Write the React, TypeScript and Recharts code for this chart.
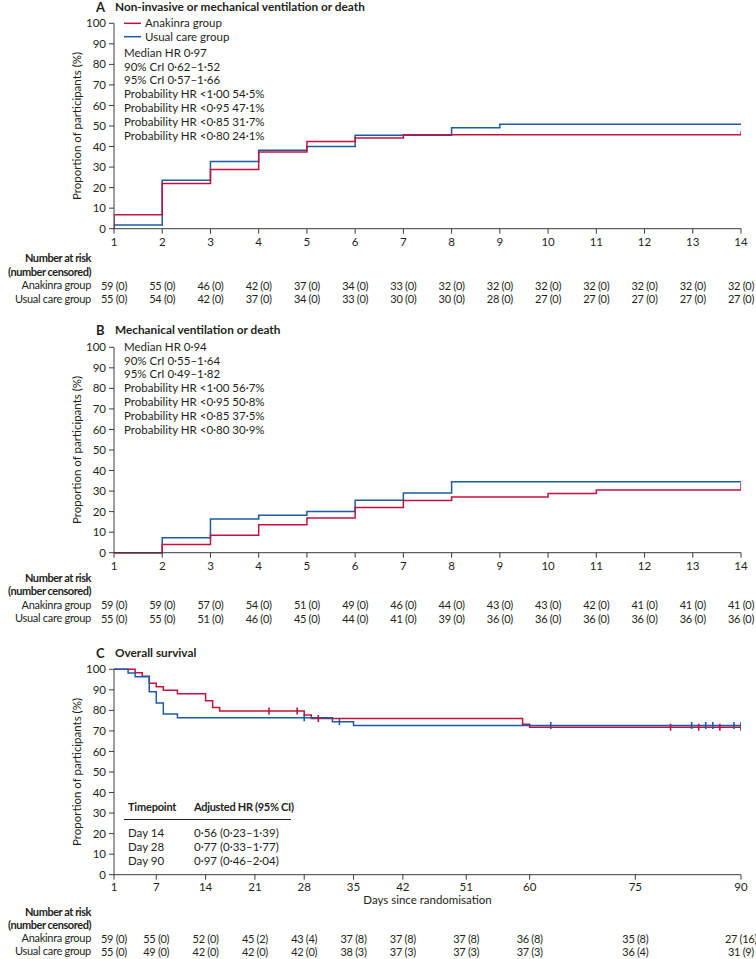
import React from "react";
import { ComposedChart, Line, XAxis, YAxis } from "recharts";

const FONT = "Lato, 'Open Sans', Arial, sans-serif";
const RED = "#c6113d";
const BLUE = "#1d5ba6";
const AXIS = "#3c3c3c";
const INK = "#231f20";
const PLOT_H = 205.4;
const FS = 11.5;

// panels A and B: days 1-14
const shortTicks = [1, 2, 3, 4, 5, 6, 7, 8, 9, 10, 11, 12, 13, 14];

// A: non-invasive or mechanical ventilation or death (cumulative %)
const aDays = [1, 1, 2, 3, 4, 5, 6, 7, 8, 9, 10, 11, 12, 13, 14];
const aAnakinra = [0, 6.8, 22.0, 28.8, 37.3, 42.4, 44.1, 45.8, 45.8, 45.8, 45.8, 45.8, 45.8, 45.8, 47.5];
const aUsual = [0, 1.8, 23.6, 32.7, 38.2, 40.0, 45.5, 45.5, 49.1, 50.9, 50.9, 50.9, 50.9, 50.9, 50.9];
const aRiskAnakinra = ["59 (0)", "55 (0)", "46 (0)", "42 (0)", "37 (0)", "34 (0)", "33 (0)", "32 (0)", "32 (0)", "32 (0)", "32 (0)", "32 (0)", "32 (0)", "32 (0)"];
const aRiskUsual = ["55 (0)", "54 (0)", "42 (0)", "37 (0)", "34 (0)", "33 (0)", "30 (0)", "30 (0)", "28 (0)", "27 (0)", "27 (0)", "27 (0)", "27 (0)", "27 (0)"];
const aStats = [
  "Median HR 0·97",
  "90% CrI 0·62–1·52",
  "95% CrI 0·57–1·66",
  "Probability HR <1·00 54·5%",
  "Probability HR <0·95 47·1%",
  "Probability HR <0·85 31·7%",
  "Probability HR <0·80 24·1%",
];

// B: mechanical ventilation or death (cumulative %)
const bDays = [1, 2, 3, 4, 5, 6, 7, 8, 9, 10, 11, 12, 13, 14];
const bAnakinra = [0, 4.0, 8.5, 13.6, 16.9, 22.0, 25.4, 27.1, 27.1, 28.8, 30.5, 30.5, 30.5, 34.0];
const bUsual = [0, 7.3, 16.4, 18.2, 20.0, 25.5, 29.1, 34.5, 34.5, 34.5, 34.5, 34.5, 34.5, 34.5];
const bRiskAnakinra = ["59 (0)", "59 (0)", "57 (0)", "54 (0)", "51 (0)", "49 (0)", "46 (0)", "44 (0)", "43 (0)", "43 (0)", "42 (0)", "41 (0)", "41 (0)", "41 (0)"];
const bRiskUsual = ["55 (0)", "55 (0)", "51 (0)", "46 (0)", "45 (0)", "44 (0)", "41 (0)", "39 (0)", "36 (0)", "36 (0)", "36 (0)", "36 (0)", "36 (0)", "36 (0)"];
const bStats = [
  "Median HR 0·94",
  "90% CrI 0·55–1·64",
  "95% CrI 0·49–1·82",
  "Probability HR <1·00 56·7%",
  "Probability HR <0·95 50·8%",
  "Probability HR <0·85 37·5%",
  "Probability HR <0·80 30·9%",
];

// C: overall survival (%)
const longTicks = [1, 7, 14, 21, 28, 35, 42, 51, 60, 75, 90];
const cDaysAnakinra = [1, 4, 5, 6, 7, 8, 10, 14, 15, 16, 23, 27, 28, 29, 30, 59, 60, 80, 84, 87, 90];
const cAnakinra = [100, 98.3, 96.6, 93.2, 91.5, 89.8, 88.1, 84.7, 81.4, 79.7, 79.7, 79.7, 77.8, 76.0, 76.0, 73.2, 71.8, 71.8, 71.8, 71.8, 71.8];
const cCensAnakinra = [23, 27, 30, 80, 84, 87, 90];
const cDaysUsual = [1, 3, 4, 6, 7, 8, 10, 28, 32, 33, 35, 63, 83, 85, 86, 89, 90];
const cUsual = [100, 98.2, 96.4, 89.1, 83.6, 78.2, 76.4, 76.4, 74.5, 74.5, 72.6, 72.6, 72.6, 72.6, 72.6, 72.6, 72.6];
const cCensUsual = [28, 33, 63, 83, 85, 86, 89, 90];
const cRiskAnakinra = ["59 (0)", "55 (0)", "52 (0)", "45 (2)", "43 (4)", "37 (8)", "37 (8)", "37 (8)", "36 (8)", "35 (8)", "27 (16)"];
const cRiskUsual = ["55 (0)", "49 (0)", "42 (0)", "42 (0)", "42 (0)", "38 (3)", "37 (3)", "37 (3)", "37 (3)", "36 (4)", "31 (9)"];
const cTable = [
  ["Day 14", "0·56 (0·23–1·39)"],
  ["Day 28", "0·77 (0·33–1·77)"],
  ["Day 90", "0·97 (0·46–2·04)"],
];

const yTicks = [0, 10, 20, 30, 40, 50, 60, 70, 80, 90, 100];

type Pt = { day: number; v: number; censored: boolean };
const toPts = (days: number[], vals: number[], cens: number[] = []): Pt[] =>
  days.map((d, i) => ({ day: d, v: vals[i], censored: cens.includes(d) }));

const textStyle: React.CSSProperties = {
  position: "absolute",
  fontFamily: FONT,
  fontSize: FS,
  color: INK,
  whiteSpace: "nowrap",
  lineHeight: "13.8px",
};

const centerTick = (labels: string[] | null, ticks: number[]) => (p: any) => {
  const v = p.payload.value;
  const txt = labels ? labels[ticks.indexOf(v)] : String(v);
  return (
    <text
      x={p.x}
      y={p.y}
      textAnchor="middle"
      dominantBaseline="central"
      fontSize={labels ? 11 : FS}
      letterSpacing={labels ? -0.3 : 0}
      fill={INK}
      fontFamily={FONT}
    >
      {txt}
    </text>
  );
};

const censorDot = (color: string) => (p: any) =>
  p.payload && p.payload.censored ? (
    <line key={`c${p.index}`} x1={p.cx} x2={p.cx} y1={p.cy - 3.5} y2={p.cy + 3.5} stroke={color} strokeWidth={1.6} />
  ) : (
    <g key={`n${p.index}`} />
  );

type Series = { color: string; data: Pt[]; censor?: boolean };

function KMPanel(props: {
  top: number;
  marginTop: number;
  axisHeight: number;
  tickGap: number;
  rowH: number;
  letter: string;
  title: string;
  titleY: number;
  domain: [number, number];
  ticks: number[];
  series: Series[];
  riskAnakinra: string[];
  riskUsual: string[];
  rowY: number[];
  xLabel?: string;
  children?: React.ReactNode;
}) {
  const { top, marginTop, axisHeight, rowH, domain, ticks } = props;
  const height = marginTop + PLOT_H + axisHeight + 2 * rowH + 4;
  const rowLabels = ["Number at risk", "(number censored)", "Anakinra group", "Usual care group"];
  const riskAxis = (id: string, labels: string[]) => (
    <XAxis
      xAxisId={id}
      type="number"
      dataKey="day"
      domain={domain}
      allowDataOverflow
      ticks={ticks}
      interval={0}
      height={rowH}
      axisLine={false}
      tickLine={false}
      tickSize={0}
      tickMargin={7}
      tick={centerTick(labels, ticks)}
    />
  );
  return (
    <>
      <div style={{ position: "absolute", left: 0, top }}>
        <ComposedChart width={756} height={height} margin={{ top: marginTop, right: 15, bottom: 4, left: 74 }}>
          <XAxis
            xAxisId="main"
            type="number"
            dataKey="day"
            domain={domain}
            allowDataOverflow
            ticks={ticks}
            interval={0}
            height={axisHeight}
            tickSize={5}
            tickMargin={props.tickGap}
            stroke={AXIS}
            tick={centerTick(null, ticks)}
            label={
              props.xLabel
                ? { value: props.xLabel, position: "insideTop", offset: 21.5, style: { fontSize: FS, fill: INK, fontFamily: FONT } }
                : undefined
            }
          />
          {riskAxis("ra", props.riskAnakinra)}
          {riskAxis("ru", props.riskUsual)}
          <YAxis
            type="number"
            domain={[0, 100]}
            ticks={yTicks}
            interval={0}
            width={40}
            tickSize={5}
            tickMargin={3}
            stroke={AXIS}
            tick={{ fontSize: FS, fill: INK, fontFamily: FONT }}
            label={{
              value: "Proportion of participants (%)",
              angle: -90,
              position: "insideLeft",
              offset: 3,
              style: { textAnchor: "middle", fontSize: FS, fill: INK, fontFamily: FONT },
            }}
          />
          {props.series.map((s, i) => (
            <Line
              key={i}
              xAxisId="main"
              data={s.data}
              dataKey="v"
              type="stepAfter"
              stroke={s.color}
              strokeWidth={1.5}
              dot={s.censor ? censorDot(s.color) : false}
              activeDot={false}
              isAnimationActive={false}
            />
          ))}
        </ComposedChart>
      </div>
      <div style={{ ...textStyle, left: 96, top: props.titleY - 7, fontSize: 13, lineHeight: "14px", fontWeight: 700 }}>
        {props.letter}
      </div>
      <div style={{ ...textStyle, left: 115, top: props.titleY - 7, fontSize: 11.8, lineHeight: "14px", fontWeight: 700 }}>
        {props.title}
      </div>
      {rowLabels.map((t, i) => (
        <div
          key={t}
          style={{
            ...textStyle,
            left: -20,
            width: 111,
            textAlign: "right",
            top: props.rowY[i] - 6.9,
            fontSize: 11,
            letterSpacing: i < 2 ? -0.45 : -0.3,
            fontWeight: i < 2 ? 700 : 400,
          }}
        >
          {t}
        </div>
      ))}
      {props.children}
    </>
  );
}

function StatsBlock({ top, lines }: { top: number; lines: string[] }) {
  return (
    <div style={{ ...textStyle, left: 124, top }}>
      {lines.map((l) => (
        <div key={l}>{l}</div>
      ))}
    </div>
  );
}

export default function App() {
  return (
    <div style={{ position: "absolute", left: 0, top: 0, width: 756, height: 959, overflow: "hidden", background: "#fff" }}>
      <KMPanel
        top={0}
        marginTop={23.3}
        axisHeight={49.3}
        tickGap={8}
        rowH={13.5}
        letter="A"
        title="Non-invasive or mechanical ventilation or death"
        titleY={6.5}
        domain={[1, 14]}
        ticks={shortTicks}
        series={[
          { color: BLUE, data: toPts(aDays, aUsual) },
          { color: RED, data: toPts(aDays, aAnakinra) },
        ]}
        riskAnakinra={aRiskAnakinra}
        riskUsual={aRiskUsual}
        rowY={[258, 271.5, 285, 298.5]}
      >
        <svg style={{ position: "absolute", left: 124, top: 16 }} width={17} height={28}>
          <line x1={0} x2={17} y1={7.3} y2={7.3} stroke={RED} strokeWidth={1.5} />
          <line x1={0} x2={17} y1={20.7} y2={20.7} stroke={BLUE} strokeWidth={1.5} />
        </svg>
        <div style={{ ...textStyle, left: 145, top: 16.4 }}>
          <div>Anakinra group</div>
          <div>Usual care group</div>
        </div>
        <StatsBlock top={45.8} lines={aStats} />
      </KMPanel>

      <KMPanel
        top={320}
        marginTop={27.3}
        axisHeight={44.8}
        tickGap={8}
        rowH={13.5}
        letter="B"
        title="Mechanical ventilation or death"
        titleY={330}
        domain={[1, 14]}
        ticks={shortTicks}
        series={[
          { color: BLUE, data: toPts(bDays, bUsual) },
          { color: RED, data: toPts(bDays, bAnakinra) },
        ]}
        riskAnakinra={bRiskAnakinra}
        riskUsual={bRiskUsual}
        rowY={[577.5, 591, 604.5, 618]}
      >
        <StatsBlock top={339.8} lines={bStats} />
      </KMPanel>

      <KMPanel
        top={640}
        marginTop={29.3}
        axisHeight={56.7}
        tickGap={6.5}
        rowH={13}
        letter="C"
        title="Overall survival"
        titleY={652.7}
        domain={[1, 90]}
        ticks={longTicks}
        series={[
          { color: RED, data: toPts(cDaysAnakinra, cAnakinra, cCensAnakinra), censor: true },
          { color: BLUE, data: toPts(cDaysUsual, cUsual, cCensUsual), censor: true },
        ]}
        riskAnakinra={cRiskAnakinra}
        riskUsual={cRiskUsual}
        rowY={[912, 925, 938, 951]}
        xLabel="Days since randomisation"
      >
        <div style={{ ...textStyle, left: 128, top: 799.8, fontSize: 11, fontWeight: 700, letterSpacing: -0.2 }}>Timepoint</div>
        <div style={{ ...textStyle, left: 194, top: 799.8, fontSize: 11, fontWeight: 700, letterSpacing: -0.3 }}>
          Adjusted HR (95% CI)
        </div>
        <div style={{ position: "absolute", left: 124, top: 818.5, width: 167, height: 1, background: INK }} />
        {cTable.map(([day, hr], i) => (
          <React.Fragment key={day}>
            <div style={{ ...textStyle, left: 128, top: 826.4 + i * 13.7 }}>{day}</div>
            <div style={{ ...textStyle, left: 194, top: 826.4 + i * 13.7 }}>{hr}</div>
          </React.Fragment>
        ))}
      </KMPanel>
    </div>
  );
}
